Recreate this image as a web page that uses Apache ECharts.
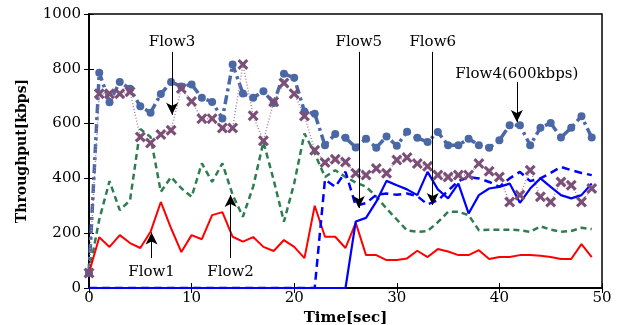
<!DOCTYPE html>
<html>
<head>
<meta charset="utf-8">
<script src="https://cdn.jsdelivr.net/npm/echarts@6/dist/echarts.min.js"></script>
<style>
    html, body { margin: 0; padding: 0; background: #fff; }
    #chart { width: 620px; height: 325px; }
</style>
</head>
<body>
<div id="chart"></div>
<script>
// time in seconds
var time = [0, 1, 2, 3, 4, 5, 6, 7, 8, 9, 10, 11, 12, 13, 14, 15, 16, 17, 18, 19,
    20, 21, 22, 23, 24, 25, 26, 27, 28, 29, 30, 31, 32, 33, 34, 35, 36, 37, 38, 39,
    40, 41, 42, 43, 44, 45, 46, 47, 48, 49];

// throughput in kbps
var flow1 = [55, 185, 150, 193, 164, 146, 205, 314, 218, 131, 193, 178, 266, 277, 187, 169, 186, 150, 135, 175,
    150, 109, 300, 187, 187, 146, 238, 120, 120, 102, 102, 108, 136, 113, 142, 133, 120, 120, 138, 106,
    113, 113, 120, 120, 118, 113, 106, 106, 160, 113];
var flow2 = [55, 250, 390, 284, 320, 580, 551, 351, 405, 364, 333, 455, 387, 455, 340, 260, 370, 533, 394, 242,
    382, 564, 491, 405, 430, 405, 385, 370, 333, 290, 250, 210, 205, 208, 240, 278, 278, 266, 211, 213,
    213, 213, 211, 205, 225, 213, 205, 208, 220, 215];
var flow3 = [55, 709, 709, 709, 716, 551, 529, 560, 576, 728, 681, 618, 618, 584, 584, 816, 629, 537, 680, 748,
    709, 628, 503, 458, 470, 460, 419, 412, 436, 419, 467, 476, 454, 444, 412, 405, 412, 412, 454, 426,
    405, 314, 339, 430, 333, 314, 387, 375, 314, 363];
var flow4 = [55, 786, 678, 752, 727, 663, 640, 708, 752, 735, 743, 694, 679, 619, 816, 710, 694, 718, 675, 782,
    767, 644, 636, 521, 562, 548, 513, 545, 512, 553, 519, 570, 548, 533, 569, 521, 521, 545, 521, 512,
    539, 594, 594, 521, 585, 602, 549, 585, 627, 549];
var flow5 = [0, 0, 0, 0, 0, 0, 0, 0, 0, 0, 0, 0, 0, 0, 0, 0, 0, 0, 0, 0,
    0, 0, 0, 396, 369, 424, 300, 310, 340, 345, 340, 345, 335, 305, 320, 355, 390, 405, 400, 387,
    369, 400, 424, 390, 400, 420, 442, 430, 420, 412];
var flow6 = [0, 0, 0, 0, 0, 0, 0, 0, 0, 0, 0, 0, 0, 0, 0, 0, 0, 0, 0, 0,
    0, 0, 0, 0, 0, 0, 243, 256, 315, 391, 375, 360, 339, 424, 360, 327, 381, 272, 339, 363,
    369, 381, 311, 363, 400, 369, 339, 327, 339, 381];

var xTicks = [0, 10, 20, 30, 40, 50];
var yTicks = [0, 200, 400, 600, 800, 1000];

// annotation labels: [name, time, label y, arrow tail y, arrow tip y]
var notes = [
    ["Flow3", 8.1, 898, 862, 632],
    ["Flow5", 26.3, 898, 862, 292],
    ["Flow6", 33.5, 898, 862, 303],
    ["Flow4(600kbps)", 41.7, 781, 752, 606],
    ["Flow1", 6.1, 59, 109, 203],
    ["Flow2", 13.8, 59, 109, 339]
];

function pairs(ys) {
    return time.map(function (t, i) { return [t, ys[i]]; });
}

var serif = "DejaVu Serif";
var crossPath = "path://M0,2 L2,0 L5,3 L8,0 L10,2 L7,5 L10,8 L8,10 L5,7 L2,10 L0,8 L3,5 Z";

var chart = echarts.init(document.getElementById("chart"));

var axisX = {
    type: "value",
    min: xTicks[0],
    max: xTicks[xTicks.length - 1],
    interval: 10,
    splitLine: { show: false },
    axisLine: { lineStyle: { color: "#000", width: 1.5 } },
    axisTick: { inside: true, length: 5, lineStyle: { color: "#000" } }
};
var axisY = {
    type: "value",
    min: yTicks[0],
    max: yTicks[yTicks.length - 1],
    interval: 200,
    splitLine: { show: false },
    axisLine: { lineStyle: { color: "#000", width: 1.5 } },
    axisTick: { inside: true, length: 5, lineStyle: { color: "#000" } }
};

chart.setOption({
    animation: false,
    backgroundColor: "#fff",
    grid: {
        left: 89,
        right: 18,
        top: 14,
        bottom: 37,
        outerBoundsMode: "none",
        show: true,
        borderColor: "#000",
        borderWidth: 1.5
    },
    xAxis: [
        Object.assign({}, axisX, {
            position: "bottom",
            name: "Time[sec]",
            nameLocation: "middle",
            nameGap: 17,
            nameTextStyle: { fontFamily: serif, fontWeight: "bold", fontSize: 15, color: "#000" },
            axisLabel: { fontFamily: serif, fontSize: 15, color: "#000", margin: 3 }
        }),
        Object.assign({}, axisX, { position: "top", axisLabel: { show: false } })
    ],
    yAxis: [
        Object.assign({}, axisY, {
            position: "left",
            name: "Throughput[kbps]",
            nameLocation: "middle",
            nameGap: 60,
            nameTextStyle: { fontFamily: serif, fontWeight: "bold", fontSize: 14, color: "#000" },
            axisLabel: {
                fontFamily: serif, fontSize: 15, color: "#000", margin: 8,
                formatter: function (v) { return String(v); }
            }
        }),
        Object.assign({}, axisY, { position: "right", axisLabel: { show: false } })
    ],
    series: [
        {
            name: "Flow4",
            type: "line",
            data: pairs(flow4),
            symbol: "circle",
            symbolSize: 8,
            itemStyle: { color: "#4a68a6" },
            lineStyle: { color: "#4a68a6", width: 3.5, type: [9, 4, 3, 4] }
        },
        {
            name: "Flow3",
            type: "line",
            data: pairs(flow3),
            symbol: crossPath,
            symbolSize: 11,
            itemStyle: { color: "#7b4f78" },
            lineStyle: { color: "#a884a4", width: 1.5, type: [1, 2] }
        },
        {
            name: "Flow2",
            type: "line",
            data: pairs(flow2),
            showSymbol: false,
            lineStyle: { color: "#2e7d50", width: 2.5, type: [6, 4] }
        },
        {
            name: "Flow1",
            type: "line",
            data: pairs(flow1),
            showSymbol: false,
            lineStyle: { color: "#ff0000", width: 2 },
            markLine: {
                silent: true,
                symbol: ["none", "arrow"],
                symbolSize: [9, 12],
                label: { show: false },
                lineStyle: { color: "#000", width: 1, type: "solid" },
                data: notes.map(function (n) {
                    return [{ coord: [n[1], n[3]] }, { coord: [n[1], n[4]] }];
                })
            },
            markPoint: {
                silent: true,
                symbol: "circle",
                symbolSize: 0,
                label: {
                    show: true,
                    position: "inside",
                    formatter: "{b}",
                    fontFamily: serif,
                    fontSize: 15,
                    color: "#000"
                },
                data: notes.map(function (n) {
                    return { name: n[0], coord: [n[1], n[2]] };
                })
            }
        },
        {
            name: "Flow5",
            type: "line",
            data: pairs(flow5),
            showSymbol: false,
            lineStyle: { color: "#0000ff", width: 2.5, type: [8, 5] }
        },
        {
            name: "Flow6",
            type: "line",
            data: pairs(flow6),
            showSymbol: false,
            lineStyle: { color: "#0000ff", width: 2.2 }
        }
    ]
});
</script>
</body>
</html>
